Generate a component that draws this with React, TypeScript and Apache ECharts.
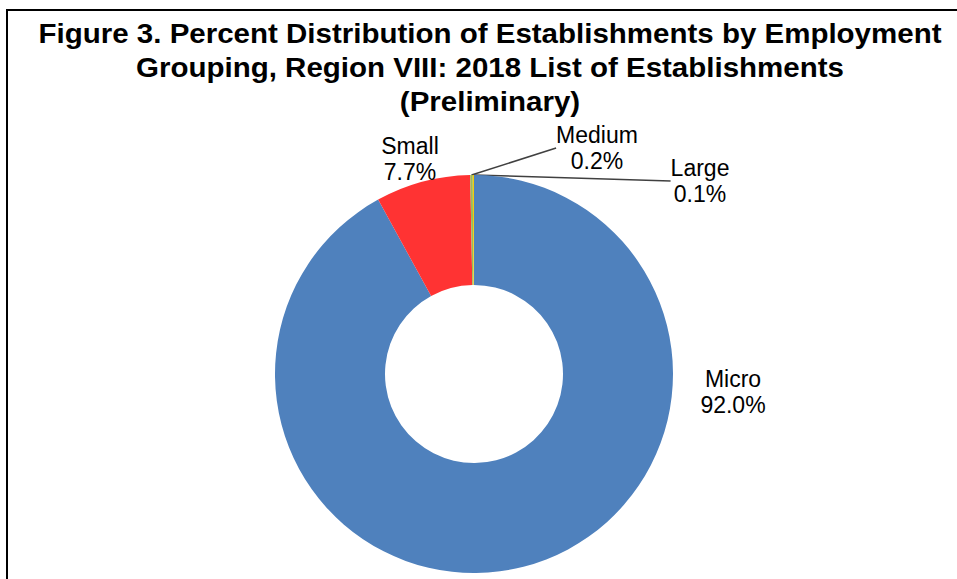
import React, { useEffect, useRef } from "react";
import * as echarts from "echarts";

const categories = ["Micro", "Small", "Medium", "Large"];
const percents = [92.0, 7.7, 0.2, 0.1];
const colors = ["#4F81BD", "#FF3333", "#9BBB59", "#F2CC0C"];
const titleLines = [
  "Figure 3. Percent Distribution of Establishments by Employment",
  "Grouping, Region VIII: 2018 List of Establishments",
  "(Preliminary)",
];

const labelPos: Record<string, [number, number]> = {
  Micro: [733, 392],
  Small: [410, 159],
  Medium: [597, 148],
  Large: [700, 181],
};

export default function App() {
  const ref = useRef<HTMLDivElement>(null);
  useEffect(() => {
    if (!ref.current) return;
    const chart = echarts.init(ref.current, undefined, { renderer: "svg" });
    const font = "'Liberation Sans', Arial, sans-serif";
    chart.setOption({
      animation: false,
      backgroundColor: "#ffffff",
      graphic: [
        {
          type: "rect",
          shape: { x: 7, y: 10, width: 1000, height: 1000 },
          style: { fill: "none", stroke: "#000", lineWidth: 2 },
          z: 0,
        },
        {
          type: "text",
          x: 490,
          y: 16,
          scaleX: 1.093,
          style: {
            text: titleLines.join("\n"),
            font: `bold 27px ${font}`,
            textAlign: "center",
            lineHeight: 34,
            fill: "#000",
          },
        },
      ],
      series: [
        {
          type: "pie",
          center: [474, 374],
          radius: [89, 199],
          startAngle: 90,
          clockwise: true,
          avoidLabelOverlap: false,
          itemStyle: { borderWidth: 0 },
          label: {
            show: true,
            position: "outside",
            fontFamily: font,
            fontSize: 23,
            lineHeight: 26,
            color: "#000",
            align: "center",
            formatter: (p: any) => `${p.name}\n${p.value.toFixed(1)}%`,
          },
          labelLine: {
            show: true,
            length: 0,
            length2: 0,
            lineStyle: { color: "#404040", width: 1.5 },
          },
          labelLayout: (p: any) => {
            const name = categories[p.dataIndex];
            const [x, y] = labelPos[name];
            return { x, y, align: "center", verticalAlign: "middle" };
          },
          emphasis: { disabled: true },
          data: categories.map((c, i) => ({
            name: c,
            value: percents[i],
            itemStyle: { color: colors[i] },
            labelLine: { show: c === "Medium" || c === "Large" },
          })),
        },
      ],
    });
    return () => chart.dispose();
  }, []);
  return (
    <div
      ref={ref}
      style={{ position: "fixed", left: 0, top: 0, width: 957, height: 579 }}
    />
  );
}
